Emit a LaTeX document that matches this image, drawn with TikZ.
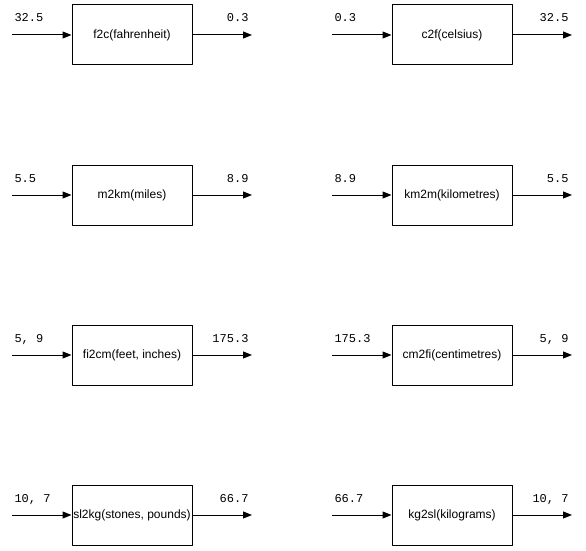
\documentclass[tikz,border=0pt]{standalone}
\usepackage{fontspec}
\setmainfont{Liberation Sans}
\setmonofont{Liberation Mono}
\usetikzlibrary{arrows.meta}
\begin{document}
\begin{tikzpicture}[x=1pt,y=-1pt,line join=round,line width=1pt,
	conv/.style={draw,minimum width=120pt,minimum height=60pt,inner sep=0pt,font=\fontsize{12}{14}\selectfont},
	val/.style={inner sep=0pt,font=\ttfamily\fontsize{12}{14}\selectfont},
	flow/.style={-{Triangle[length=9pt,width=7pt]}}]
	%==box size and arrow length
	\def\w{120}
	\def\l{60}
	%==============
	\useasboundingbox (0,0) rectangle (586,551);
	\foreach \n/\x/\y/\t/\vin/\vout in {
		f2c/132/35/{f2c(fahrenheit)}/32.5/0.3,
		c2f/452/35/{c2f(celsius)}/0.3/32.5,
		m2km/132/195/{m2km(miles)}/5.5/8.9,
		km2m/452/195/{km2m(kilometres)}/8.9/5.5,
		fi2cm/132/355/{fi2cm(feet, inches)}/{5, 9}/175.3,
		cm2fi/452/355/{cm2fi(centimetres)}/175.3/{5, 9},
		sl2kg/132/515/{sl2kg(stones, pounds)}/{10, 7}/66.7,
		kg2sl/452/515/{kg2sl(kilograms)}/66.7/{10, 7}}{
		\node[conv] (\n) at (\x,\y) {\t};
		\coordinate (\n-in) at (\x-\w/2-\l,\y);
		\coordinate (\n-out) at (\x+\w/2+\l,\y);
		\draw[flow] (\n-in)--(\n.west);
		\draw[flow] (\n.east)--(\n-out);
		\node[val,anchor=base west] (\n-vin) at ([xshift=2pt,yshift=13pt]\n-in) {\vin};
		\node[val,anchor=base east] (\n-vout) at ([xshift=-3pt,yshift=13pt]\n-out) {\vout};
	}
\end{tikzpicture}
\end{document}
